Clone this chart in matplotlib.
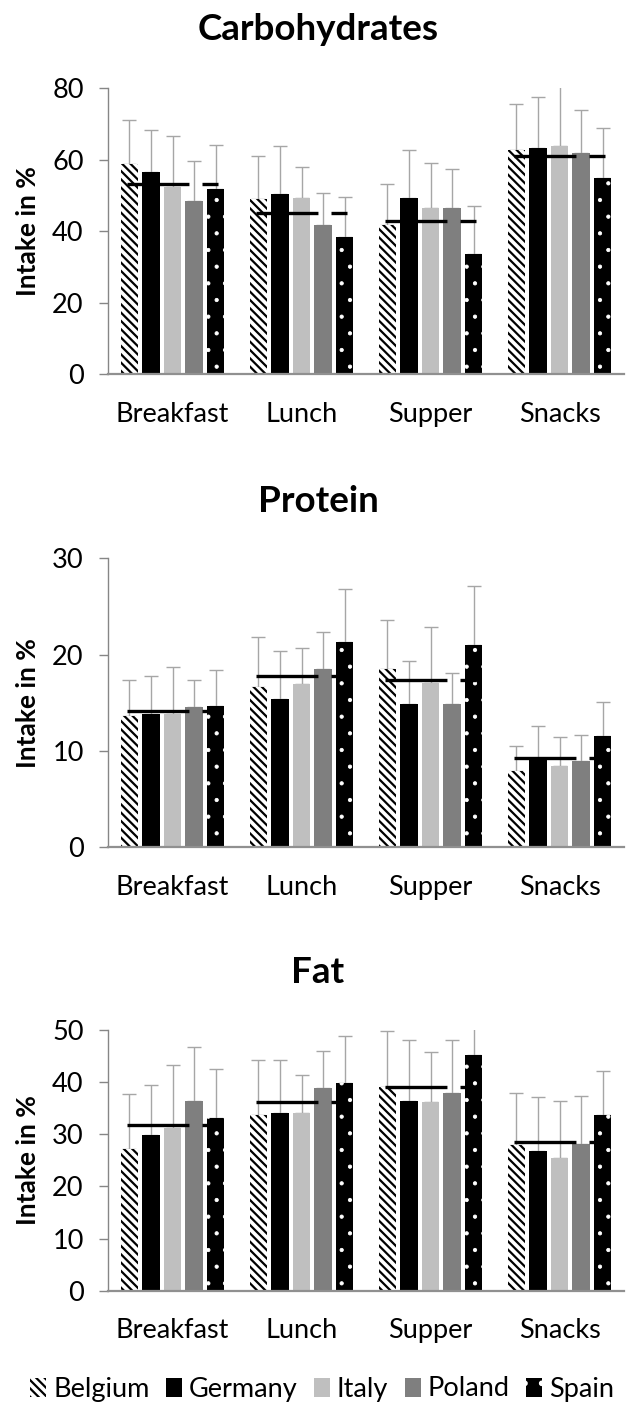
import numpy as np
import matplotlib.pyplot as plt
from matplotlib.patches import Patch

plt.rcParams['font.family'] = ['Lato', 'DejaVu Sans']
plt.rcParams['hatch.linewidth'] = 1.6
plt.rcParams['lines.scale_dashes'] = False

meals = ['Breakfast', 'Lunch', 'Supper', 'Snacks']
countries = ['Belgium', 'Germany', 'Italy', 'Poland', 'Spain']

# rows = countries, cols = meals
carb_mean = [[58.7, 49.1, 41.9, 62.8],
             [56.6, 50.5, 49.2, 63.2],
             [52.3, 49.2, 46.4, 63.9],
             [48.4, 41.8, 46.4, 62.0],
             [51.7, 38.4, 33.7, 55.0]]
carb_sd = [[12.3, 12.0, 11.4, 12.8],
           [11.6, 13.4, 13.5, 14.3],
           [14.4, 8.8, 12.8, 17.0],
           [11.3, 8.8, 10.9, 11.9],
           [12.4, 11.3, 13.3, 13.8]]
carb_all = [53.1, 45.2, 42.9, 61.2]

prot_mean = [[13.6, 16.6, 18.5, 7.9],
             [13.8, 15.4, 14.9, 9.3],
             [13.8, 17.0, 17.1, 8.4],
             [14.6, 18.5, 14.9, 9.0],
             [14.7, 21.3, 21.0, 11.6]]
prot_sd = [[3.8, 5.2, 5.1, 2.6],
           [4.0, 5.0, 4.4, 3.3],
           [4.9, 3.7, 5.8, 3.0],
           [2.8, 3.9, 3.2, 2.7],
           [3.7, 5.5, 6.1, 3.5]]
prot_all = [14.1, 17.8, 17.4, 9.25]

fat_mean = [[27.1, 33.7, 39.0, 28.0],
            [29.8, 34.0, 36.4, 26.8],
            [31.3, 34.0, 36.1, 25.4],
            [36.4, 38.8, 38.0, 28.1],
            [33.2, 39.8, 45.2, 33.7]]
fat_sd = [[10.6, 10.6, 10.9, 9.9],
          [9.7, 10.3, 11.6, 10.3],
          [11.9, 7.4, 9.6, 10.9],
          [10.3, 7.1, 10.0, 9.3],
          [9.3, 9.1, 8.0, 8.5]]
fat_all = [31.8, 36.1, 39.0, 28.6]

styles = [dict(facecolor='white', edgecolor='black', hatch='\\' * 4),
          dict(facecolor='black', edgecolor='black'),
          dict(facecolor='#bfbfbf', edgecolor='#bfbfbf'),
          dict(facecolor='#7f7f7f', edgecolor='#7f7f7f'),
          dict(facecolor='black', edgecolor='white', hatch='.')]
hatch_lw = [1.6, 1.0, 1.0, 1.0, 0.6]

fig = plt.figure(figsize=(6.36, 14.04), dpi=100)
W, H = 636, 1404
fs = 19.5


def panel(top, bottom, title, title_y, mean, sd, overall, ymax, step):
    ax = fig.add_axes([108 / W, 1 - bottom / H, 516 / W, (bottom - top) / H])
    x = np.arange(len(meals))
    bw, gap = 0.136, 0.1667
    for i, c in enumerate(countries):
        pos = x + (i - 2) * gap
        with plt.rc_context({'hatch.linewidth': hatch_lw[i]}):
            ax.bar(pos, mean[i], bw, linewidth=0, zorder=2, **styles[i])
        ax.errorbar(pos, mean[i], yerr=[np.zeros(4), sd[i]], fmt='none',
                    ecolor='#a6a6a6', elinewidth=1.0, capsize=4.7, capthick=1.0, zorder=1)
    for j in range(len(meals)):
        ax.plot([j - 0.35, j + 0.35], [overall[j], overall[j]], color='black', lw=2.4,
                linestyle=(0, (44.6, 9.4)), solid_capstyle='butt', dash_capstyle='butt', zorder=3)
    ax.set_xlim(-0.5, 3.5)
    ax.set_ylim(0, ymax)
    ax.set_yticks(np.arange(0, ymax + 1, step))
    ax.set_xticks(x)
    ax.set_xticklabels(meals)
    for s in ['top', 'right']:
        ax.spines[s].set_visible(False)
    ax.spines['left'].set_color('#868686')
    ax.spines['left'].set_linewidth(1.0)
    ax.spines['bottom'].set_color('#909090')
    ax.spines['bottom'].set_linewidth(1.6)
    ax.tick_params(axis='y', length=6.5, width=1.0, color='#868686', pad=11, labelsize=fs)
    ax.tick_params(axis='x', length=0, pad=20, labelsize=fs)
    fig.text(0.5, 1 - title_y / H, title, ha='center', va='baseline',
             fontsize=26.5, fontweight='bold')
    fig.text(27.5 / W, 1 - (top + bottom) / 2 / H, 'Intake in %', rotation=90,
             ha='center', va='center', fontsize=19, fontweight='bold')
    return ax


panel(88.3, 374.3, 'Carbohydrates', 40, carb_mean, carb_sd, carb_all, 80, 20)
panel(558.3, 847.3, 'Protein', 512, prot_mean, prot_sd, prot_all, 30, 10)
panel(1030, 1290.7, 'Fat', 983, fat_mean, fat_sd, fat_all, 50, 10)

handles = []
for i, c in enumerate(countries):
    with plt.rc_context({'hatch.linewidth': hatch_lw[i]}):
        handles.append(Patch(label=c, linewidth=0, **styles[i]))
fig.legend(handles=handles, loc='center', bbox_to_anchor=(322 / W, 1 - 1389 / H),
           ncol=5, frameon=False, fontsize=fs, handlelength=0.6, handleheight=0.7,
           handletextpad=0.25, columnspacing=0.6, borderpad=0)

fig.savefig('out.png', dpi=100)
